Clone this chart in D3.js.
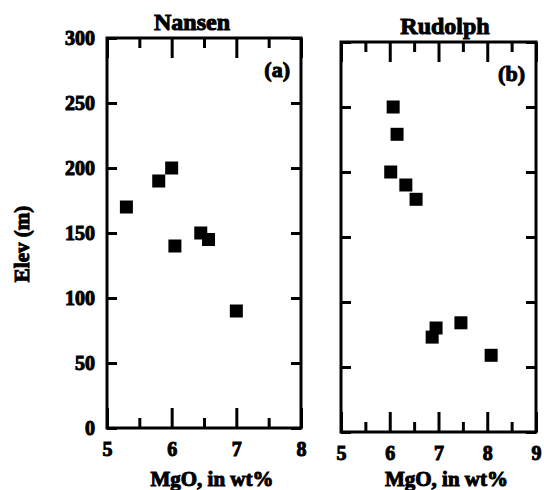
<!DOCTYPE html>
<html>
<head>
<meta charset="utf-8">
<script src="https://cdn.jsdelivr.net/npm/d3@7"></script>
<style>
  body { margin: 0; background: #fff; }
  svg text { font-family: "Liberation Serif", "DejaVu Serif", serif; font-weight: bold; fill: #000; stroke: #000; stroke-width: 1; }
  .axis line { stroke: #000; stroke-width: 3; }
  .axis path { display: none; }
</style>
</head>
<body>
<svg class="chart"></svg>
<script>
// Nansen (a)
const nansenMgO = [5.3, 5.8, 6.0, 6.05, 6.45, 6.57, 7.0]
const nansenElev = [170, 190, 200, 140, 150, 145, 90]
// Rudolph (b)
const rudolphMgO = [6.07, 6.15, 6.02, 6.33, 6.54, 6.95, 6.87, 7.46, 8.08]
const rudolphElev = [250, 229, 200, 190, 179, 80, 73, 84, 59]

const elevTicks = [0, 50, 100, 150, 200, 250, 300]

const panels = [
  { title: 'Nansen', tag: '(a)', mgo: nansenMgO, elev: nansenElev, xDomain: [5, 8],
    left: 107, right: 301, top: 38, bottom: 428, yLabels: true, titleX: 192 },
  { title: 'Rudolph', tag: '(b)', mgo: rudolphMgO, elev: rudolphElev, xDomain: [5, 9],
    left: 341, right: 536, top: 42, bottom: 432, yLabels: false, titleX: 445 },
]

const chart = d3.select('.chart')
  .attr('width', 544)
  .attr('height', 490)

panels.forEach((p) => {
  const x = d3.scaleLinear().domain(p.xDomain).range([p.left, p.right])
  const y = d3.scaleLinear().domain([0, 300]).range([p.bottom, p.top])
  const majors = d3.range(p.xDomain[0], p.xDomain[1] + 1)
  const minors = d3.range(p.xDomain[0] + 0.5, p.xDomain[1], 1)
  const g = chart.append('g')

  // bottom axis, ticks point inward
  g.append('g').attr('class', 'axis').attr('transform', `translate(0,${p.bottom})`)
    .call(d3.axisBottom(x).tickValues(majors).tickSize(-20).tickPadding(14).tickFormat(d3.format('d')))
    .call(a => a.attr('font-family', null).attr('font-size', 20))
  g.append('g').attr('class', 'axis').attr('transform', `translate(0,${p.bottom})`)
    .call(d3.axisBottom(x).tickValues(minors).tickSize(-10).tickFormat(''))

  // top axis
  g.append('g').attr('class', 'axis').attr('transform', `translate(0,${p.top})`)
    .call(d3.axisTop(x).tickValues(majors).tickSize(-20).tickFormat(''))
  g.append('g').attr('class', 'axis').attr('transform', `translate(0,${p.top})`)
    .call(d3.axisTop(x).tickValues(minors).tickSize(-10).tickFormat(''))

  // left and right axes
  g.append('g').attr('class', 'axis').attr('transform', `translate(${p.left},0)`)
    .call(d3.axisLeft(y).tickValues(elevTicks).tickSize(-10).tickPadding(12)
      .tickFormat(p.yLabels ? d3.format('d') : ''))
    .call(a => a.attr('font-family', null).attr('font-size', 20))
  g.append('g').attr('class', 'axis').attr('transform', `translate(${p.right},0)`)
    .call(d3.axisRight(y).tickValues(elevTicks).tickSize(-10).tickFormat(''))

  // frame
  g.append('rect')
    .attr('x', p.left)
    .attr('y', p.top)
    .attr('width', p.right - p.left)
    .attr('height', p.bottom - p.top)
    .attr('fill', 'none')
    .attr('stroke', '#000')
    .attr('stroke-width', 3)

  // points
  const pts = p.mgo.map((m, i) => [m, p.elev[i]])
  g.append('g').selectAll('rect')
    .data(pts)
    .enter()
    .append('rect')
    .attr('x', d => x(d[0]) - 6.5)
    .attr('y', d => y(d[1]) - 6.5)
    .attr('width', 13)
    .attr('height', 13)
    .attr('fill', '#000')

  g.append('text')
    .attr('x', p.titleX)
    .attr('y', p.top - 8)
    .attr('text-anchor', 'middle')
    .attr('font-size', 24)
    .text(p.title)

  g.append('text')
    .attr('x', p.right - 11)
    .attr('y', p.top + 39)
    .attr('text-anchor', 'end')
    .attr('font-size', 22)
    .text(p.tag)

  g.append('text')
    .attr('x', (p.left + p.right) / 2 + 8)
    .attr('y', 486)
    .attr('text-anchor', 'middle')
    .attr('font-size', 21)
    .text('MgO, in wt%')
})

chart.append('text')
  .attr('transform', 'translate(29,244) rotate(-90)')
  .attr('text-anchor', 'middle')
  .attr('font-size', 21)
  .text('Elev (m)')
</script>
</body>
</html>
